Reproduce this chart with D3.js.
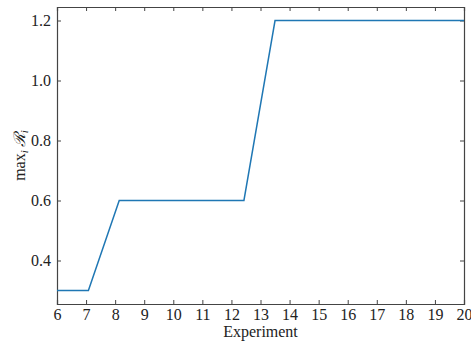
<!DOCTYPE html>
<html>
<head>
  <meta charset="utf-8">
  <style>
    body { margin: 0; background: white; }
    text { font-family: "Liberation Serif", "DejaVu Serif", serif; fill: #222; }
    .axis path, .axis line { stroke: #444; }
  </style>
</head>
<body>
  <div id="chart"></div>
  <script src="https://d3js.org/d3.v7.min.js"></script>
  <script>
    // data
    var experiment = [6, 7.08, 8.14, 12.43, 13.5, 20]
    var maxR = [0.3, 0.3, 0.6, 0.6, 1.2, 1.2]
    var xTicks = [6, 7, 8, 9, 10, 11, 12, 13, 14, 15, 16, 17, 18, 19, 20]
    var yTicks = [0.4, 0.6, 0.8, 1.0, 1.2]

    var width = 471, height = 347
    var margin = { top: 7, right: 7, bottom: 43, left: 57 }

    var svg = d3.select("#chart").append("svg")
      .attr("width", width)
      .attr("height", height)

    var x = d3.scaleLinear().domain([6, 20]).range([margin.left, width - margin.right])
    var y = d3.scaleLinear().domain([0.255, 1.245]).range([height - margin.bottom, margin.top])

    // axes with inward ticks on all four sides
    svg.append("g").attr("class", "axis")
      .attr("transform", "translate(0," + (height - margin.bottom) + ")")
      .call(d3.axisBottom(x).tickValues(xTicks).tickSize(-4).tickPadding(5).tickFormat(d3.format("d")))
    svg.append("g").attr("class", "axis")
      .attr("transform", "translate(0," + margin.top + ")")
      .call(d3.axisTop(x).tickValues(xTicks).tickSize(-4).tickFormat(""))
    svg.append("g").attr("class", "axis")
      .attr("transform", "translate(" + margin.left + ",0)")
      .call(d3.axisLeft(y).tickValues(yTicks).tickSize(-4).tickPadding(6).tickFormat(d3.format(".1f")))
    svg.append("g").attr("class", "axis")
      .attr("transform", "translate(" + (width - margin.right) + ",0)")
      .call(d3.axisRight(y).tickValues(yTicks).tickSize(-4).tickFormat(""))

    svg.selectAll(".axis text").style("font-size", "16px")
    svg.selectAll(".axis .domain").style("stroke-width", 1.2)

    // the line
    var line = d3.line()
      .x(function(d, i) { return x(experiment[i]) })
      .y(function(d) { return y(d) })

    svg.append("path")
      .datum(maxR)
      .attr("d", line)
      .attr("fill", "none")
      .attr("stroke", "#1f77b4")
      .attr("stroke-width", 1.5)

    // axis labels
    svg.append("text")
      .attr("x", (margin.left + width - margin.right) / 2)
      .attr("y", 337)
      .attr("text-anchor", "middle")
      .style("font-size", "16px")
      .text("Experiment")

    var ylab = svg.append("text")
      .attr("transform", "translate(25," + ((margin.top + height - margin.bottom) / 2) + ") rotate(-90)")
      .attr("text-anchor", "middle")
      .style("font-size", "16px")
    ylab.append("tspan").text("max")
    ylab.append("tspan").attr("dy", 3).style("font-size", "11px").style("font-style", "italic").text("i")
    ylab.append("tspan").attr("dy", -3).attr("dx", 3).style("font-style", "italic").text("ℛ")
    ylab.append("tspan").attr("dy", 3).style("font-size", "11px").style("font-style", "italic").text("i")
  </script>
</body>
</html>
